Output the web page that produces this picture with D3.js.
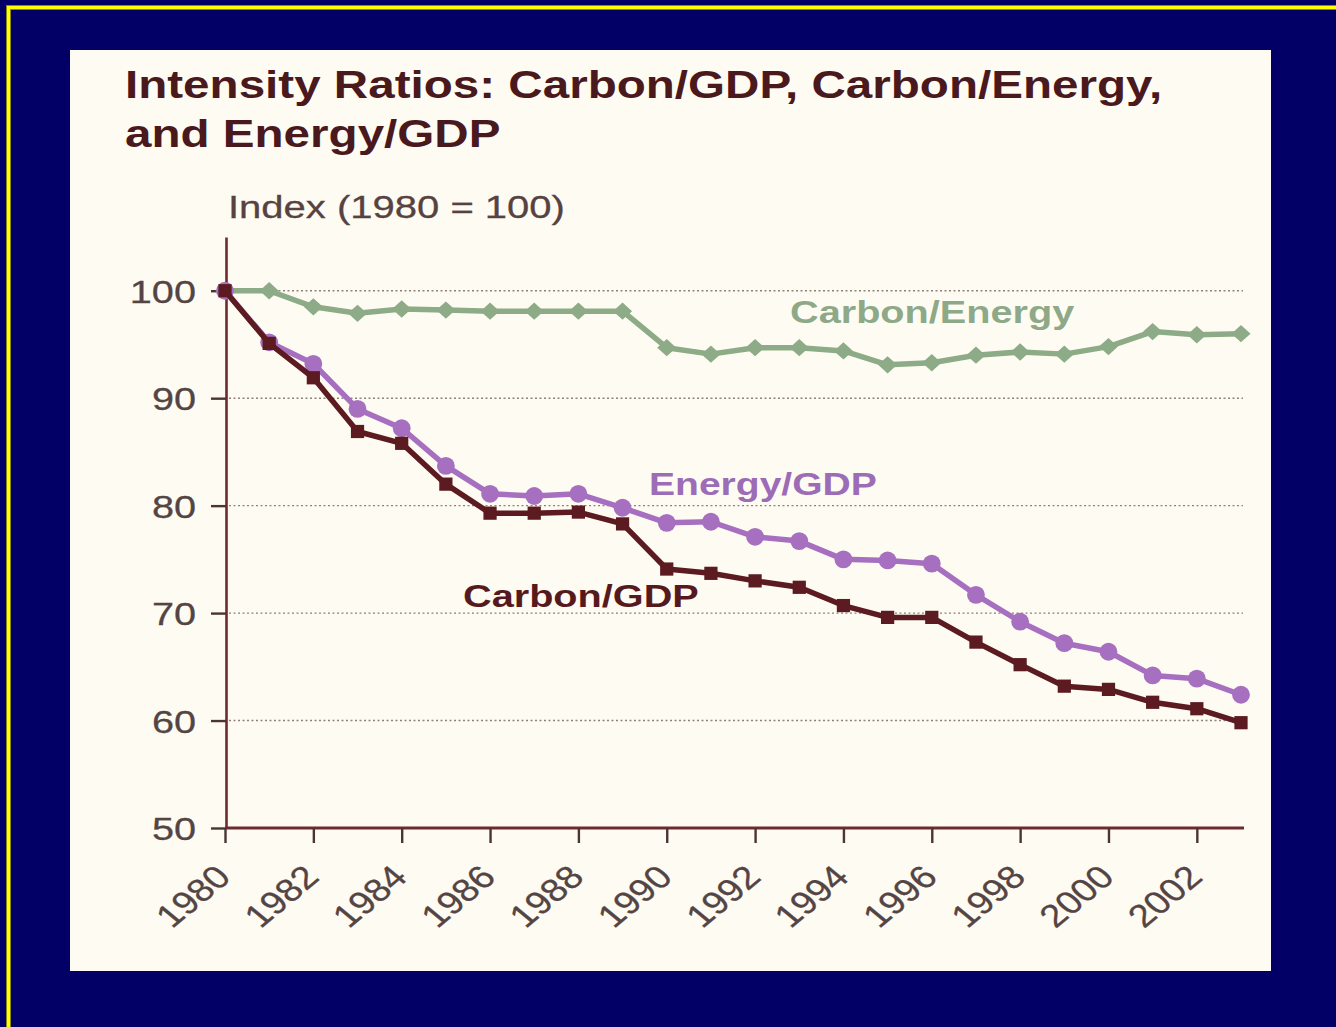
<!DOCTYPE html>
<html>
<head>
<meta charset="utf-8">
<script src="https://cdn.jsdelivr.net/npm/d3@7"></script>
<style>
  html, body { margin: 0; padding: 0; background: #020066; }
  svg { display: block; }
  text { font-family: "Liberation Sans", Arial, Helvetica, sans-serif; }
</style>
</head>
<body>
<svg id="chart" width="1336" height="1027"></svg>
<script>
// ---- data ----
const years = [1980, 1981, 1982, 1983, 1984, 1985, 1986, 1987, 1988, 1989, 1990, 1991,
               1992, 1993, 1994, 1995, 1996, 1997, 1998, 1999, 2000, 2001, 2002, 2003];
const carbonEnergy = [100, 100, 98.5, 97.9, 98.3, 98.2, 98.1, 98.1, 98.1, 98.1, 94.7, 94.1,
                      94.7, 94.7, 94.4, 93.1, 93.3, 94.0, 94.3, 94.1, 94.8, 96.2, 95.9, 96.0];
const energyGdp = [100, 95.2, 93.2, 89.0, 87.2, 83.7, 81.1, 80.9, 81.1, 79.8, 78.4, 78.5,
                   77.1, 76.7, 75.0, 74.9, 74.6, 71.7, 69.2, 67.2, 66.4, 64.2, 63.9, 62.4];
const carbonGdp = [100, 95.1, 91.9, 86.9, 85.8, 82.0, 79.3, 79.3, 79.4, 78.3, 74.1, 73.7,
                   73.0, 72.4, 70.7, 69.6, 69.6, 67.3, 65.2, 63.2, 62.9, 61.7, 61.1, 59.8];
const yTicks = [50, 60, 70, 80, 90, 100];
const gridTicks = [60, 70, 80, 90, 100];
const xTicks = [1980, 1982, 1984, 1986, 1988, 1990, 1992, 1994, 1996, 1998, 2000, 2002];
const titleLines = ["Intensity Ratios: Carbon/GDP, Carbon/Energy,", "and Energy/GDP"];
const unitLabel = "Index (1980 = 100)";

// ---- styling ----
const SX = 1.24;               // horizontal widening applied to all lettering
const C = {
  navy: "#020066", yellow: "#ffff00", olive: "#8a8a10", panel: "#fefcf2",
  title: "#4a191d", axis: "#6e2a2e", tick: "#4a3434", tickText: "#544444",
  grid: "#8f8078",
  green: "#8dab86", purple: "#a66fc0", maroon: "#5c1b20",
  greenText: "#8ea987", purpleText: "#9c6cb6", maroonText: "#561a1e"
};

const svg = d3.select("#chart");

// slide frame
svg.append("rect").attr("width", 1336).attr("height", 1027).attr("fill", C.navy);
svg.append("line").attr("x1", 6).attr("x2", 1336).attr("y1", 7.5).attr("y2", 7.5)
  .attr("stroke", C.olive).attr("stroke-width", 5);
svg.append("line").attr("x1", 8.5).attr("x2", 8.5).attr("y1", 5).attr("y2", 1027)
  .attr("stroke", C.olive).attr("stroke-width", 5);
svg.append("line").attr("x1", 7).attr("x2", 1336).attr("y1", 7.5).attr("y2", 7.5)
  .attr("stroke", C.yellow).attr("stroke-width", 3);
svg.append("line").attr("x1", 8.5).attr("x2", 8.5).attr("y1", 6).attr("y2", 1027)
  .attr("stroke", C.yellow).attr("stroke-width", 3);

// chart panel
svg.append("rect").attr("x", 70).attr("y", 50).attr("width", 1201).attr("height", 921)
  .attr("fill", C.panel);

// helper: text widened horizontally
function wideText(parent, str, x, y, opts) {
  const g = parent.append("g")
    .attr("transform", `translate(${x},${y}) scale(${opts.sx || SX},1)`);
  return g.append("text").text(str)
    .attr("font-size", opts.size)
    .attr("font-weight", opts.weight || "normal")
    .attr("fill", opts.fill)
    .attr("stroke", opts.stroke || "none")
    .attr("stroke-width", opts.strokeWidth || 0)
    .attr("text-anchor", opts.anchor || "start");
}

// title
titleLines.forEach((t, i) => {
  wideText(svg, t, 125, 98 + i * 49, { size: 39, weight: "bold", fill: C.title, sx: 1.22 });
});
wideText(svg, unitLabel, 228, 218, { size: 31.5, fill: "#574242", sx: 1.27,
  stroke: "#574242", strokeWidth: 0.3 });

// scales
const x = d3.scaleLinear().domain([1980, 2003]).range([225, 1241]);
const y = d3.scaleLinear().domain([50, 105]).range([828, 237]);

// gridlines
svg.append("g").selectAll("line").data(gridTicks).join("line")
  .attr("x1", 229).attr("x2", 1243)
  .attr("y1", d => y(d)).attr("y2", d => y(d))
  .attr("stroke", C.grid).attr("stroke-width", 1.4)
  .attr("stroke-dasharray", "2,2.5");

// y axis
const yAxis = d3.axisLeft(y).tickValues(yTicks).tickSizeInner(15).tickSizeOuter(0).tickPadding(0);
const gy = svg.append("g").attr("transform", `translate(${x(1980) + 1},0)`).call(yAxis);
gy.select(".domain").attr("stroke", C.axis).attr("stroke-width", 2.6);
gy.selectAll(".tick line").attr("stroke", C.tick).attr("stroke-width", 2.4);
gy.selectAll(".tick text")
  .attr("x", 0).attr("dy", null)
  .attr("transform", "translate(-30,11.5) scale(1.24,1)")
  .attr("font-size", 32).attr("fill", C.tickText)
  .attr("stroke", C.tickText).attr("stroke-width", 0.3)
  .attr("font-family", "Liberation Sans, Arial, sans-serif");

// x axis
const xAxis = d3.axisBottom(x).tickValues(xTicks).tickSizeInner(15).tickSizeOuter(0)
  .tickFormat(d3.format("d"));
const gx = svg.append("g").attr("transform", `translate(0,${y(50)})`).call(xAxis);
gx.select(".domain").attr("stroke", C.axis).attr("stroke-width", 2.8)
  .attr("d", `M${x(1980)},0H${x(2003) + 3}`);
gx.selectAll(".tick line").attr("stroke", C.tick).attr("stroke-width", 2.4);
gx.selectAll(".tick text")
  .attr("y", 0).attr("dy", null)
  .attr("transform", "translate(7,51) scale(1.2,1) rotate(-45)")
  .attr("text-anchor", "end")
  .attr("font-size", 32).attr("fill", C.tickText)
  .attr("stroke", C.tickText).attr("stroke-width", 0.3)
  .attr("font-family", "Liberation Sans, Arial, sans-serif");

// series
const line = d3.line().x((d, i) => x(years[i])).y(d => y(d));

function drawSeries(values, color, width, symbol, size) {
  const g = svg.append("g");
  g.append("path").datum(values).attr("d", line)
    .attr("fill", "none").attr("stroke", color).attr("stroke-width", width)
    .attr("stroke-linejoin", "round");
  g.selectAll("path.m").data(values).join("path").attr("class", "m")
    .attr("d", d3.symbol().type(symbol).size(size))
    .attr("transform", (d, i) => `translate(${x(years[i])},${y(d)})`)
    .attr("fill", color);
}

const diamond = {
  draw(ctx, size) {
    const w = Math.sqrt(size) * 0.55, h = Math.sqrt(size) * 0.5;
    ctx.moveTo(0, -h); ctx.lineTo(w, 0); ctx.lineTo(0, h); ctx.lineTo(-w, 0); ctx.closePath();
  }
};

drawSeries(carbonEnergy, C.green, 5.5, diamond, 300);
drawSeries(energyGdp, C.purple, 5.5, d3.symbolCircle, 250);
drawSeries(carbonGdp, C.maroon, 5.5, d3.symbolSquare, 175);

// series labels
wideText(svg, "Carbon/Energy", 790, 323, { size: 32, weight: "bold", fill: C.greenText });
wideText(svg, "Energy/GDP", 649, 495, { size: 31.5, weight: "bold", fill: C.purpleText });
wideText(svg, "Carbon/GDP", 463, 607, { size: 32, weight: "bold", fill: C.maroonText });
</script>
</body>
</html>
